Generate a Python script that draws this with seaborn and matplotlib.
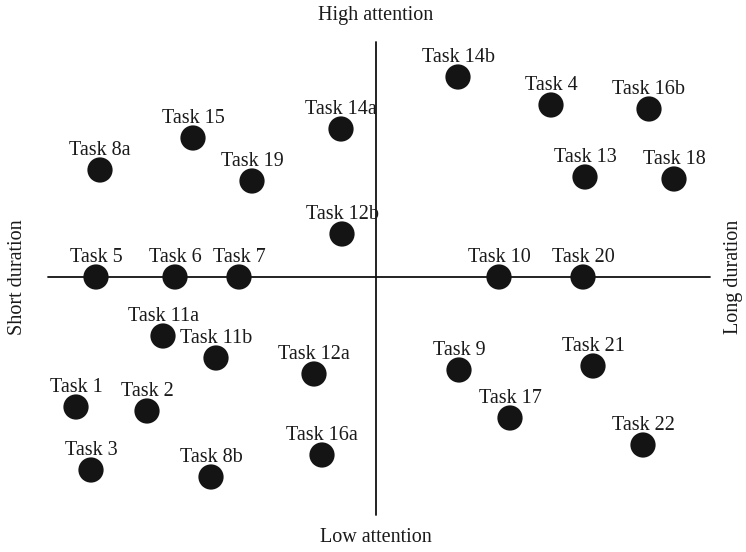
import matplotlib
matplotlib.use("Agg")
import matplotlib.pyplot as plt
import seaborn as sns
import pandas as pd

tasks = ["Task 14b", "Task 4", "Task 16b", "Task 15", "Task 14a", "Task 8a",
         "Task 19", "Task 13", "Task 18", "Task 12b", "Task 5", "Task 6",
         "Task 7", "Task 10", "Task 20", "Task 11a", "Task 11b", "Task 12a",
         "Task 9", "Task 21", "Task 1", "Task 2", "Task 17", "Task 22",
         "Task 3", "Task 8b", "Task 16a"]
duration = [8.2, 17.5, 27.3, -18.3, -3.5, -27.6,
            -12.4, 20.9, 29.8, -3.4, -28.0, -20.1,
            -13.7, 12.3, 20.7, -21.3, -16.0, -6.2,
            8.3, 21.7, -30.0, -22.9, 13.4, 26.7,
            -28.5, -16.5, -5.4]
attention = [20.0, 17.2, 16.8, 13.9, 14.8, 10.7,
             9.6, 10.0, 9.8, 4.3, 0.0, 0.0,
             0.0, 0.0, 0.0, -5.9, -8.1, -9.7,
             -9.3, -8.9, -13.0, -13.4, -14.1, -16.8,
             -19.3, -20.0, -17.8]

df = pd.DataFrame({"task": tasks, "duration": duration, "attention": attention})

sns.set_style("white")
plt.rcParams["font.family"] = ["Liberation Serif", "DejaVu Serif"]

fig = plt.figure(figsize=(7.46, 5.52), dpi=100)
ax = fig.add_axes([0, 0, 1, 1])
ax.set_xlim(-37.6, 37.0)
ax.set_ylim(-27.5, 27.7)
ax.axis("off")

# quadrant axes
ax.plot([-32.8, 33.4], [0, 0], color="#111111", lw=1.3, zorder=1)
ax.plot([0, 0], [-23.8, 23.5], color="#111111", lw=1.3, zorder=1)

sns.scatterplot(data=df, x="duration", y="attention", ax=ax, s=330,
                color="#141414", edgecolor="none", linewidth=0, zorder=3,
                legend=False)

for t, x, y in zip(tasks, duration, attention):
    ax.annotate(t, (x, y), xytext=(0, 11), textcoords="offset points",
                ha="center", va="baseline", fontsize=14.5, color="#1a1a1a")

ax.text(0.504, 0.972, "High attention", transform=ax.transAxes, ha="center",
        va="center", fontsize=14.5, color="#1a1a1a")
ax.text(0.504, 0.027, "Low attention", transform=ax.transAxes, ha="center",
        va="center", fontsize=14.5, color="#1a1a1a")
ax.text(0.024, 0.498, "Short duration", transform=ax.transAxes, ha="center",
        va="center", rotation=90, fontsize=14.5, color="#1a1a1a")
ax.text(0.983, 0.498, "Long duration", transform=ax.transAxes, ha="center",
        va="center", rotation=90, fontsize=14.5, color="#1a1a1a")

fig.savefig("out.png", dpi=100, facecolor="white")
